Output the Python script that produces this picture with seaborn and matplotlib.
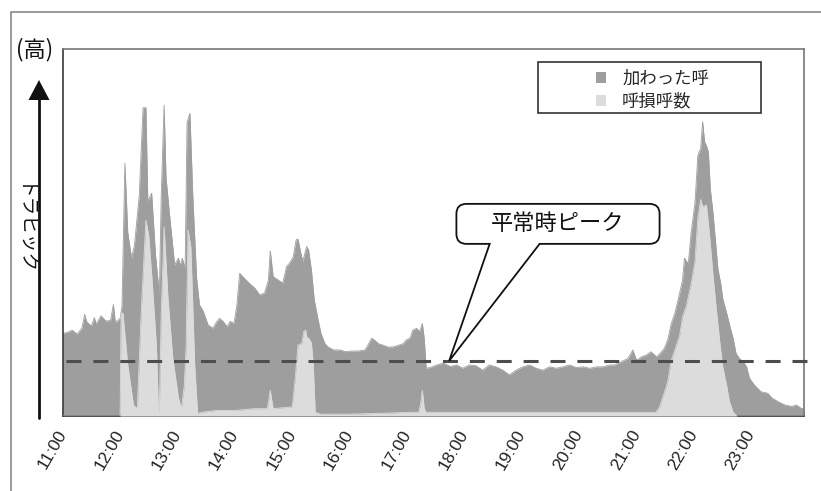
import matplotlib
matplotlib.use("Agg")
import matplotlib.pyplot as plt
import seaborn as sns
from matplotlib.patches import Patch, Rectangle, PathPatch, Polygon
from matplotlib.path import Path
from matplotlib.transforms import IdentityTransform
from matplotlib.lines import Line2D

# ---- data (minutes after 11:00) ----
total_minutes = [0, 5, 10, 15, 20, 23, 25, 30, 33, 35, 40, 45, 50, 53, 55, 60, 62, 65, 68, 72,
                 75, 80, 84, 87, 89, 93, 97, 101, 103, 106, 108, 112, 117, 121, 123, 125, 128, 130, 133, 136,
                 140, 143, 147, 152, 157, 161, 164, 168, 172, 175, 179, 182, 185, 190, 195, 201, 206, 211, 215, 217,
                 220, 225, 230, 234, 237, 241, 244, 246, 249, 251, 255, 257, 260, 263, 267, 270, 274, 277, 283, 290,
                 296, 302, 309, 316, 319, 323, 326, 330, 335, 340, 345, 351, 356, 359, 363, 366, 370, 373, 376, 378,
                 380, 384, 391, 398, 405, 412, 418, 425, 432, 439, 446, 453, 460, 467, 474, 481, 488, 495, 502, 509,
                 516, 523, 530, 537, 544, 551, 558, 565, 572, 577, 584, 591, 596, 600, 605, 610, 615, 621, 626, 629,
                 633, 636, 640, 645, 648, 650, 654, 657, 661, 664, 667, 669, 671, 673, 675, 677, 680, 682, 685, 688,
                 690, 694, 697, 701, 704, 708, 711, 715, 718, 723, 730, 737, 742, 748, 755, 762, 767, 772, 775]
total_traffic = [22.5, 22.8, 23.4, 22.3, 23.9, 27.7, 25.7, 24.5, 26.8, 25.0, 27.3, 25.9, 26.0, 30.4, 25.5, 26.6, 30.0, 68.9, 50.0, 43.0,
                 46.5, 60.0, 84.0, 84.0, 58.5, 60.7, 44.0, 33.0, 60.0, 84.7, 65.0, 54.0, 41.2, 43.0, 41.0, 43.0, 40.3, 80.0, 82.5, 60.0,
                 37.5, 30.3, 28.5, 24.8, 23.9, 25.7, 26.6, 25.7, 24.3, 25.8, 25.2, 30.0, 38.9, 37.5, 36.2, 34.8, 33.0, 33.5, 37.0, 45.0,
                 38.0, 37.1, 36.2, 40.7, 41.6, 43.4, 48.0, 48.2, 44.3, 42.1, 46.2, 45.3, 39.8, 31.6, 26.2, 22.5, 19.8, 18.9, 18.0, 18.0,
                 17.5, 17.7, 17.7, 18.0, 19.3, 21.2, 20.7, 19.7, 19.3, 18.8, 18.8, 19.3, 19.7, 20.7, 21.2, 23.4, 23.9, 23.0, 25.2, 21.0,
                 13.0, 13.2, 13.9, 14.4, 13.5, 13.9, 13.0, 13.9, 13.7, 12.5, 13.9, 13.4, 12.5, 11.2, 12.5, 13.4, 13.9, 13.0, 12.5, 13.4,
                 13.0, 13.4, 13.9, 13.2, 13.4, 13.0, 13.4, 13.4, 13.9, 13.9, 14.8, 15.7, 18.0, 15.2, 16.1, 16.6, 17.5, 16.1, 17.5, 18.4,
                 21.2, 25.0, 28.0, 33.5, 37.0, 43.0, 41.5, 50.0, 58.0, 71.0, 73.0, 80.2, 74.8, 73.6, 72.0, 62.0, 55.0, 49.0, 40.0, 36.0,
                 32.0, 28.2, 25.0, 21.0, 17.0, 15.5, 15.0, 13.4, 10.3, 8.5, 6.6, 6.2, 4.8, 3.9, 3.0, 2.6, 3.0, 2.1, 2.0]

lost_minutes = [0, 60, 61, 63, 68, 74, 78, 82, 87, 90, 94, 98, 100, 101, 103, 106, 110, 115, 121, 124,
                127, 129, 131, 134, 138, 141, 145, 160, 180, 200, 214, 217, 220, 240, 243, 246, 250, 252, 254, 255,
                257, 260, 262, 264, 270, 300, 340, 360, 372, 374, 376, 378, 380, 450, 520, 600, 620, 624, 631, 633,
                636, 640, 645, 648, 652, 657, 661, 664, 667, 669, 673, 676, 680, 683, 687, 690, 694, 697, 701, 705,
                775]
lost_calls = [0.0, 0.0, 28.0, 28.0, 14.0, 3.0, 2.0, 28.0, 53.4, 49.0, 35.0, 19.0, 2.0, 1.0, 28.0, 51.6, 32.5, 16.0, 5.0, 2.0,
              8.0, 19.0, 50.7, 46.0, 14.0, 0.7, 1.0, 1.5, 1.5, 2.0, 2.0, 7.0, 2.0, 2.5, 10.0, 19.3, 19.8, 23.0, 23.4, 21.6,
              21.2, 20.0, 13.9, 1.0, 0.5, 0.5, 0.8, 1.0, 1.0, 3.0, 7.0, 2.0, 1.0, 1.0, 1.0, 1.0, 1.0, 2.5, 8.0, 10.0,
              15.0, 18.0, 22.0, 27.0, 30.0, 36.0, 42.0, 54.0, 59.0, 57.0, 57.5, 50.0, 38.0, 30.0, 20.0, 13.5, 8.5, 4.0, 1.0, 0.0,
              0.0]

hour_labels = ["11:00", "12:00", "13:00", "14:00", "15:00", "16:00", "17:00",
               "18:00", "19:00", "20:00", "21:00", "22:00", "23:00"]
normal_peak = 15
series_names = ["加わった呼", "呼損呼数"]
series_colors = ["#9e9e9e", "#dcdcdc"]
callout_text = "平常時ピーク"

# ---- style ----
sns.set_style("white")
plt.rcParams["font.family"] = ["Noto Sans CJK JP", "DejaVu Sans"]

W, H = 821, 491
fig = plt.figure(figsize=(W / 100, H / 100), dpi=100)
ax = fig.add_axes([62.7 / W, (H - 416) / H, (804 - 62.7) / W, (416 - 49) / H])

# total traffic area, lost calls drawn over it
ax.fill_between(total_minutes, total_traffic, color=series_colors[0], lw=0, zorder=2)
sns.lineplot(x=total_minutes, y=total_traffic, ax=ax, color=series_colors[0], lw=0.6, zorder=2)
ax.fill_between(lost_minutes, lost_calls, color=series_colors[1], lw=0, zorder=3)
sns.lineplot(x=lost_minutes, y=lost_calls, ax=ax, color=series_colors[1], lw=0.6, zorder=3)

ax.set_xlim(0, 775)
ax.set_ylim(0, 100)
ax.set_xlabel("")
ax.set_ylabel("")

# usual-day peak level
ax.plot([0.004, 1.011], [normal_peak, normal_peak], transform=ax.get_yaxis_transform(),
        color="#4d4d4d", lw=2.2, ls=(0, (4.9, 3.9)), clip_on=False, zorder=4)

# axes frame and ticks
for side in ["left", "bottom", "top", "right"]:
    ax.spines[side].set_visible(True)
    ax.spines[side].set_color("#3a3a3a")
    ax.spines[side].set_linewidth(1.2)
ax.spines["top"].set_color("#777777")
ax.spines["right"].set_color("#777777")

ax.set_yticks([50])
ax.set_yticklabels([])
ax.tick_params(axis="y", direction="in", length=6, width=1.2, color="#3a3a3a")
ax.set_xticks(range(0, 721, 60))
ax.set_xticklabels(hour_labels, rotation=60, ha="right", va="center", rotation_mode="anchor",
                   fontfamily="Liberation Sans", fontsize=12.5, color="#222222")
ax.tick_params(axis="x", direction="in", length=3.5, width=1.2, color="#3a3a3a", pad=11)

# legend with its own box
box = Rectangle((0.6412, 0.8256), 0.3006, 0.139, transform=ax.transAxes,
                facecolor="white", edgecolor="#333333", lw=1.2, zorder=5)
ax.add_patch(box)
handles = [Patch(facecolor=c, edgecolor="none") for c in series_colors]
leg = ax.legend(handles, series_names, loc="upper left", bbox_to_anchor=(0.7194, 0.944),
                frameon=False, fontsize=12.5, handlelength=0.6, handleheight=0.6,
                handletextpad=0.9, labelspacing=0.3, borderpad=0, borderaxespad=0)
leg.set_zorder(6)

# speech-bubble callout pointing at the usual-day peak line
def to_px(xm, yv):
    return ax.transData.transform((xm, yv))

tip = to_px(404, normal_peak)
x0, y0 = to_px(411.6, 46.9)
x1, y1 = to_px(624, 57.8)
bx0 = to_px(446.4, 46.9)[0]
bx1 = to_px(498.6, 46.9)[0]
r = 10
verts = [(x0 + r, y0), (bx0, y0), tuple(tip), (bx1, y0), (x1 - r, y0),
         (x1, y0), (x1, y0 + r), (x1, y1 - r), (x1, y1), (x1 - r, y1),
         (x0 + r, y1), (x0, y1), (x0, y1 - r), (x0, y0 + r), (x0, y0), (x0 + r, y0),
         (x0 + r, y0)]
codes = [Path.MOVETO, Path.LINETO, Path.LINETO, Path.LINETO, Path.LINETO,
         Path.CURVE3, Path.CURVE3, Path.LINETO, Path.CURVE3, Path.CURVE3,
         Path.LINETO, Path.CURVE3, Path.CURVE3, Path.LINETO, Path.CURVE3, Path.CURVE3,
         Path.CLOSEPOLY]
bubble = PathPatch(Path(verts, codes), facecolor="white", edgecolor="#111111", lw=1.3,
                   transform=IdentityTransform(), zorder=7, clip_on=False)
ax.add_patch(bubble)
fig.text((x0 + x1) / 2, (y0 + y1) / 2, callout_text, transform=IdentityTransform(),
         ha="center", va="center", fontsize=16, color="#111111", zorder=8)

# outer frame corner
fig.add_artist(Line2D([11, 11, W], [0, H - 12, H - 12], transform=IdentityTransform(),
                      color="#8a8a8a", lw=1.2))

# vertical "traffic" arrow with captions
fig.add_artist(Line2D([39, 39], [H - 418, H - 98], transform=IdentityTransform(),
                      color="#111111", lw=2))
fig.add_artist(Polygon([(28.5, H - 100), (49.5, H - 100), (39, H - 80)], closed=True,
                       transform=IdentityTransform(), facecolor="#111111", edgecolor="none"))
fig.text(35, H - 50, "(高)", transform=IdentityTransform(), ha="center", va="center",
         fontsize=16, color="#111111")
fig.text(22, H - 231, "トラヒック", transform=IdentityTransform(), ha="center", va="center",
         rotation=-90, fontsize=13.4, color="#111111")

fig.savefig("out.png", dpi=100)
